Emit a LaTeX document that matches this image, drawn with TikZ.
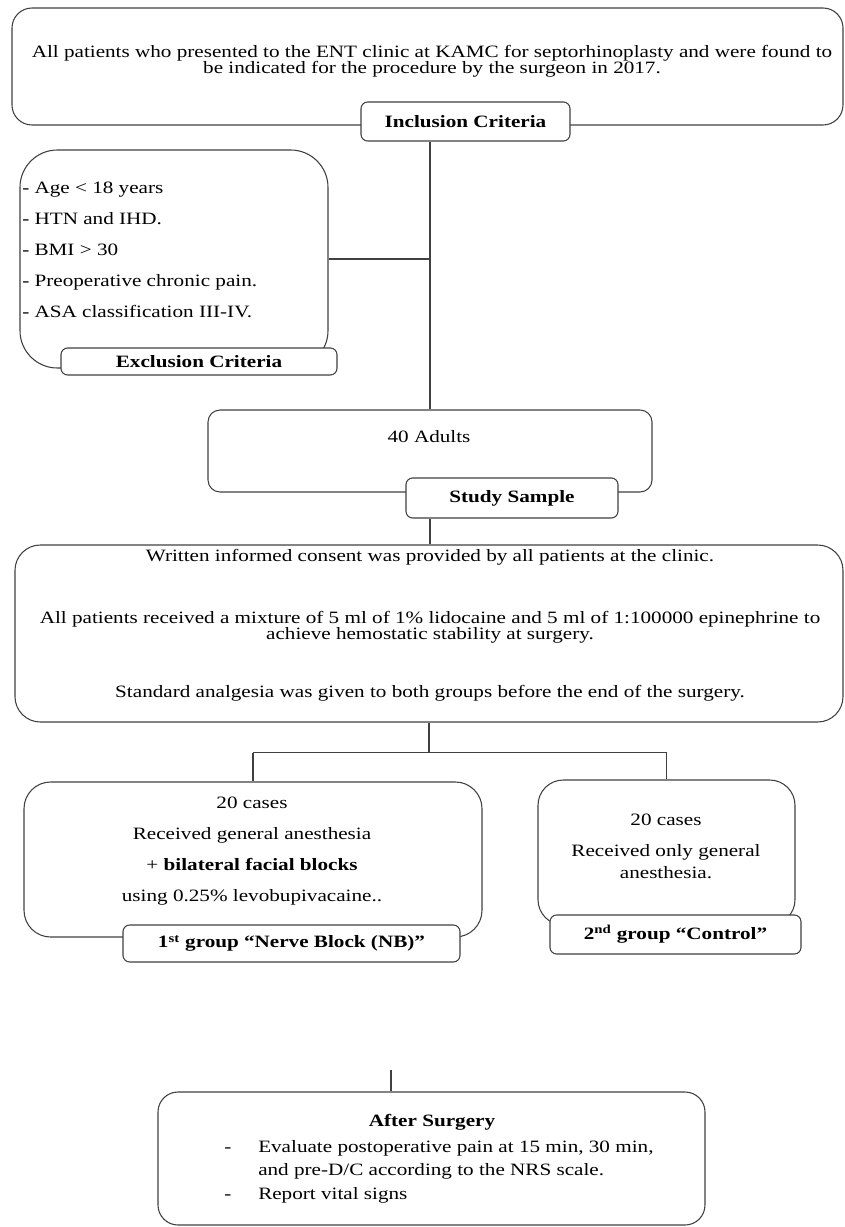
\documentclass[tikz,border=0pt]{standalone}
\usepackage{fontspec}
\setmainfont{Liberation Serif}[FakeStretch=1.22]
\usepackage{tikz}

\begin{document}
\begin{tikzpicture}[x=0.75pt,y=-0.75pt,
    every node/.style={font=\fontsize{13}{12}\selectfont},
    box/.style={draw=black!75, line width=0.8pt, rounded corners=#1, inner sep=0pt},
    box/.default=10pt,
    tag/.style={draw=black!75, line width=0.8pt, fill=white, rounded corners=5pt,
      inner sep=0pt, font=\fontsize{13}{12}\selectfont\bfseries},
    txt/.style={inner sep=0pt, align=center},
    link/.style={draw=black!75, line width=0.8pt}]
    \useasboundingbox (0,0) rectangle (844,1227);

    % selection
    \node[box=15pt, minimum width=623.25pt, minimum height=87.75pt] (top) at (427.5,66.5) {};
    \node[txt] (toptxt) at (432,61) {All patients who presented to the ENT clinic at KAMC for septorhinoplasty and were found to\\
      be indicated for the procedure by the surgeon in 2017.};
    \node[tag, minimum width=156.75pt, minimum height=29.25pt] (incl) at (465.5,121.5) {Inclusion Criteria};

    \node[box=28pt, minimum width=231pt, minimum height=163.5pt] (excl) at (174,259) {};
    \node[txt, align=left, anchor=west] (excltxt) at (22,250) {- Age < 18 years\\[11.25pt]
      - HTN and IHD.\\[11.25pt]
      - BMI > 30\\[11.25pt]
      - Preoperative chronic pain.\\[11.25pt]
      - ASA classification III-IV.};
    \node[tag, minimum width=207pt, minimum height=20.25pt] (etag) at (199,361.5) {Exclusion Criteria};

    % sample
    \node[box=9pt, minimum width=333pt, minimum height=61.5pt] (samp) at (430,451) {};
    \node[txt] (samptxt) at (429,437) {40 Adults};
    \node[tag, minimum width=159pt, minimum height=30pt] (stag) at (512,498) {Study Sample};

    \node[box=19pt, minimum width=621pt, minimum height=132.75pt] (cons) at (429,633.5) {};
    \node[txt] (constxt) at (430,625) {Written informed consent was provided by all patients at the clinic.\\[34.5pt]
      All patients received a mixture of 5 ml of 1\% lidocaine and 5 ml of 1:100000 epinephrine to\\
      achieve hemostatic stability at surgery.\\[31.5pt]
      Standard analgesia was given to both groups before the end of the surgery.};

    % groups
    \node[box=20pt, minimum width=343.5pt, minimum height=116.25pt] (nb) at (253,859.5) {};
    \node[txt] (nbtxt) at (252,851) {20 cases\\[11.25pt]
      Received general anesthesia\\[11.25pt]
      + \textbf{bilateral facial blocks}\\[11.25pt]
      using 0.25\% levobupivacaine..};
    \node[tag, minimum width=252.75pt, minimum height=27.75pt] (nbtag) at (291.5,943.5) {1\textsuperscript{st} group “Nerve Block (NB)”};

    \node[box=19pt, minimum width=192.75pt, minimum height=108.75pt] (ctl) at (666.5,852.5) {};
    \node[txt] (ctltxt) at (666,846.5) {20 cases\\[11.25pt]
      Received only general\\[4.5pt]
      anesthesia.};
    \node[tag, minimum width=188.25pt, minimum height=29.25pt] (ctag) at (675.5,934.5) {2\textsuperscript{nd} group “Control”};

    % after surgery
    \node[box=15pt, minimum width=410.25pt, minimum height=99.75pt] (aft) at (431.5,1158.5) {};
    \node[txt, font=\fontsize{13}{12}\selectfont\bfseries] (afthead) at (432,1122) {After Surgery};
    \node[txt, align=left, anchor=west] (aftlist) at (224,1172) {\makebox[25.5pt][l]{-}Evaluate postoperative pain at 15 min, 30 min,\\[5.25pt]
      \hspace*{25.5pt}and pre-D/C according to the NRS scale.\\[6pt]
      \makebox[25.5pt][l]{-}Report vital signs};

    \path[link] (incl.south -| samp.north) -- (samp.north);
    \path[link] (excl.east) -- (excl.east -| samp.north);
    \path[link] (stag.south -| samp.south) -- (samp.south |- cons.north);
    \path[link] (cons.south) -- ++(0,30) coordinate (fork);
    \path[link] (fork -| nb.north) -- (fork -| ctl.north);
    \path[link] (fork -| nb.north) -- (nb.north);
    \path[link] (fork -| ctl.north) -- (ctl.north);
    \coordinate (stub) at (391,1070);
    \path[link] (stub) -- (stub |- aft.north);
  \end{tikzpicture}
\end{document}
